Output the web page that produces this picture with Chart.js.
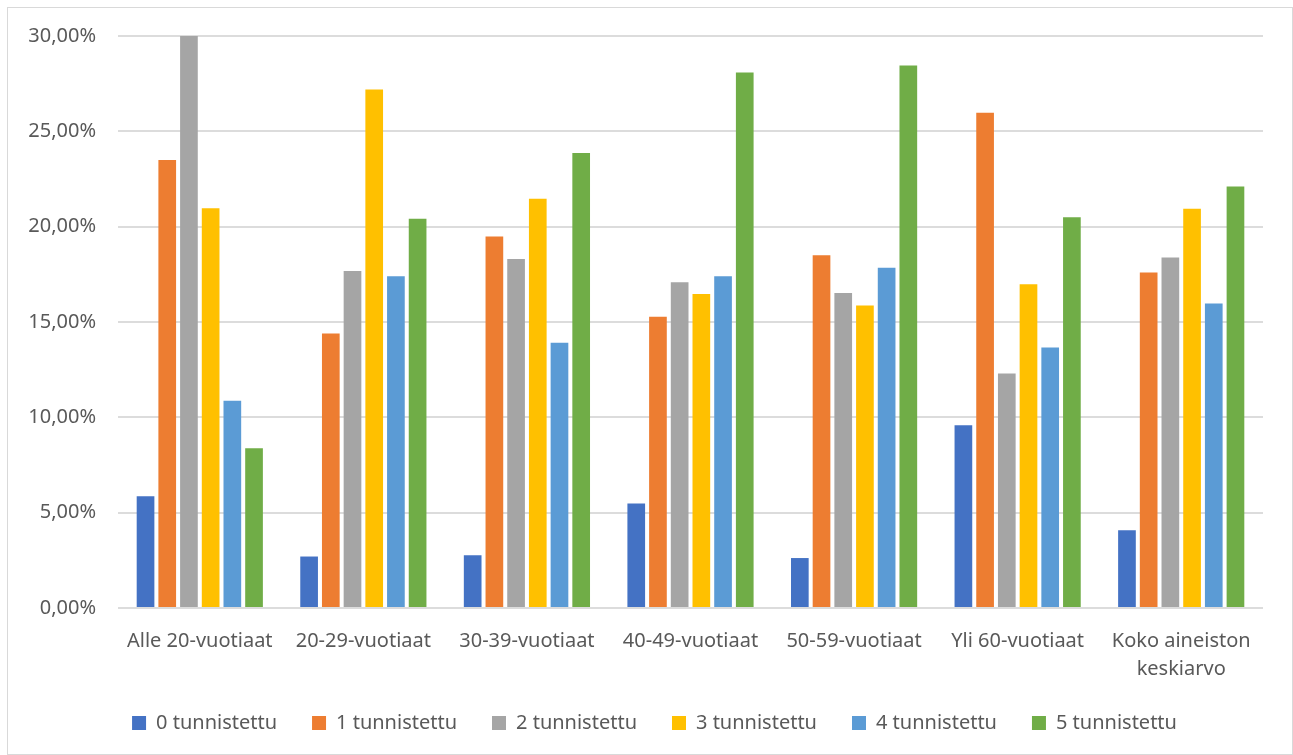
<!DOCTYPE html>
<html lang="fi">
<head>
<meta charset="utf-8">
<title>Tunnistetut ikäryhmittäin</title>
<script src="https://cdn.jsdelivr.net/npm/chart.js@4/dist/chart.umd.min.js"></script>
<style>
  html, body { margin: 0; padding: 0; background: #fff; }
  #kehys {
    position: absolute; left: 7px; top: 7px;
    width: 1286px; height: 748px;
    border: 1px solid #d9d9d9; box-sizing: border-box;
  }
</style>
</head>
<body>
<div id="kehys"><canvas id="kaavio"></canvas></div>
<script>
// Ikäryhmät x-akselille
const ryhmat = [
  "Alle 20-vuotiaat", "20-29-vuotiaat", "30-39-vuotiaat", "40-49-vuotiaat",
  "50-59-vuotiaat", "Yli 60-vuotiaat", ["Koko aineiston", "keskiarvo"]
];

const sarjaNimet = ["0 tunnistettu", "1 tunnistettu", "2 tunnistettu",
  "3 tunnistettu", "4 tunnistettu", "5 tunnistettu"];

// Osuudet prosentteina
const tunnistettu0 = [5.86, 2.70, 2.77, 5.48, 2.62, 9.58, 4.08];
const tunnistettu1 = [23.49, 14.40, 19.49, 15.27, 18.50, 25.98, 17.59];
const tunnistettu2 = [30.00, 17.68, 18.30, 17.08, 16.52, 12.30, 18.38];
const tunnistettu3 = [20.96, 27.20, 21.47, 16.47, 15.86, 16.98, 20.94];
const tunnistettu4 = [10.87, 17.40, 13.91, 17.40, 17.85, 13.66, 15.97];
const tunnistettu5 = [8.38, 20.42, 23.87, 28.08, 28.45, 20.50, 22.11];

const varit = ["#4472C4", "#ED7D31", "#A5A5A5", "#FFC000", "#5B9BD5", "#70AD47"];

const sarjat = [tunnistettu0, tunnistettu1, tunnistettu2, tunnistettu3, tunnistettu4, tunnistettu5];

const tekstiVari = "#595959";
const fontti = { family: "'Noto Sans', 'Open Sans', sans-serif", size: 20 };

function muotoile(arvo) {
  return arvo.toFixed(2).replace(".", ",") + "%";
}

// Siirretään selitettä hieman ylös ja oikealle asettelun jälkeen
const selitteenSiirto = {
  id: "selitteenSiirto",
  afterLayout: function (chart) {
    const l = chart.legend;
    if (!l) return;
    l.top -= 6; l.bottom -= 6;
    l.left += 19; l.right += 19;
  }
};

new Chart(document.getElementById("kaavio"), {
  type: "bar",
  data: {
    labels: ryhmat,
    datasets: sarjat.map(function (arvot, i) {
      return {
        label: sarjaNimet[i],
        data: arvot,
        backgroundColor: varit[i],
        borderWidth: 0,
        categoryPercentage: 0.796,
        barPercentage: 0.815
      };
    })
  },
  plugins: [selitteenSiirto],
  options: {
    responsive: true,
    maintainAspectRatio: false,
    animation: false,
    layout: { padding: { top: 28, right: 29, bottom: 5, left: 0 } },
    plugins: {
      tooltip: { enabled: false },
      legend: {
        position: "bottom",
        labels: {
          boxWidth: 14,
          boxHeight: 14,
          padding: 35,
          color: tekstiVari,
          font: fontti
        }
      }
    },
    scales: {
      x: {
        grid: { display: false },
        border: { display: false },
        ticks: {
          color: tekstiVari,
          font: Object.assign({ lineHeight: 1.4 }, fontti),
          padding: 11,
          autoSkip: false,
          maxRotation: 0
        },
        afterFit: function (akseli) { akseli.height = 76; }
      },
      y: {
        min: 0,
        max: 30,
        grid: { color: "#dcdcdc", lineWidth: 2, drawTicks: false },
        border: { display: false },
        ticks: {
          stepSize: 5,
          color: tekstiVari,
          font: fontti,
          padding: 22,
          callback: function (arvo) { return muotoile(arvo); }
        },
        afterFit: function (akseli) {
          akseli.width = 110;
          akseli.paddingTop = 0;
          akseli.paddingBottom = 0;
        }
      }
    }
  }
});
</script>
</body>
</html>
